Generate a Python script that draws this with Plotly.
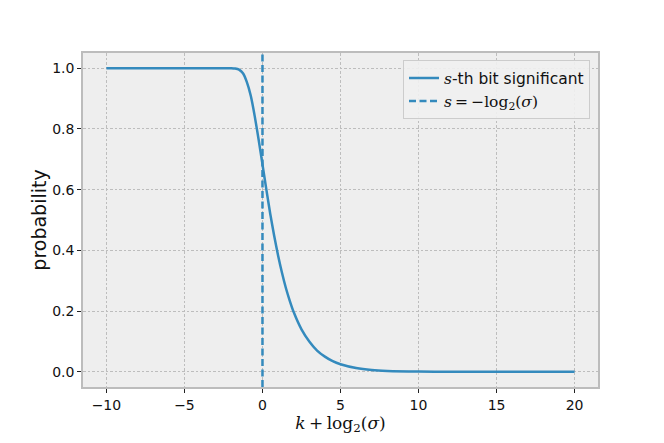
import plotly.graph_objects as go

# values
x_vals = [-10, -5, -3, -2, -1.75, -1.5, -1.25, -1, -0.75, -0.5, -0.25, 0, 0.25, 0.5, 0.75,
          1, 1.25, 1.5, 1.75, 2, 2.5, 3, 3.5, 4, 4.5, 5, 6, 7, 8, 10, 12, 15, 20]
prob = [1.0, 1.0, 1.0, 1.0, 0.999, 0.995, 0.983, 0.954, 0.909, 0.843, 0.766, 0.683, 0.600, 0.520, 0.448,
        0.383, 0.326, 0.276, 0.234, 0.197, 0.140, 0.100, 0.070, 0.050, 0.035, 0.025, 0.0125, 0.006, 0.003, 0.0008, 0.0002, 0.0, 0.0]
vline_x = [0, 0]
vline_y = [-0.05, 1.05]
x_ticks = [-10, -5, 0, 5, 10, 15, 20]
y_ticks = [0.0, 0.2, 0.4, 0.6, 0.8, 1.0]

blue = "#348ABD"
fig = go.Figure()
fig.add_trace(go.Scatter(x=x_vals, y=prob, mode="lines", line=dict(color=blue, width=2.5, shape="spline", smoothing=0.6),
                         name="<span style='font-family:DejaVu Serif'><i>s</i></span>-th bit significant"))
fig.add_trace(go.Scatter(x=vline_x, y=vline_y, mode="lines", line=dict(color=blue, width=2.5, dash="7px,3.5px"),
                         name="<span style='font-family:DejaVu Serif'><i>s</i>\u2009=\u2009−log<sub>2</sub>(<i>σ</i>)</span>"))

axis_common = dict(showgrid=True, gridcolor="#bdbdbd", griddash="2.5px,2px", gridwidth=0.6,
                   showline=True, linecolor="#bcbcbc", linewidth=1.5, mirror=True,
                   ticks="outside", ticklen=4, tickcolor="#222222", tickwidth=1,
                   zeroline=False, tickfont=dict(family="DejaVu Sans", size=14, color="#111111"))
fig.update_xaxes(range=[-11.5, 21.5], tickvals=x_ticks, ticktext=["−10", "−5", "0", "5", "10", "15", "20"],
                 title=dict(text="<i>k</i>\u2009+\u2009log<sub>2</sub>(<i>σ</i>)", font=dict(family="DejaVu Serif", size=17, color="#111111"), standoff=1),
                 **axis_common)
fig.update_yaxes(range=[-0.05, 1.05], tickvals=y_ticks, ticktext=["0.0", "0.2", "0.4", "0.6", "0.8", "1.0"],
                 title=dict(text="probability", font=dict(family="DejaVu Sans", size=19, color="#111111"), standoff=1),
                 **axis_common)
fig.update_layout(width=664, height=443, margin=dict(l=75, r=74, t=45, b=64),
                  plot_bgcolor="#eeeeee", paper_bgcolor="white",
                  legend=dict(x=0.9845, y=0.978, xanchor="right", yanchor="top",
                              bgcolor="rgba(240,240,240,0.9)", bordercolor="#cccccc", borderwidth=1,
                              font=dict(family="DejaVu Sans", size=15.5, color="#111111"), tracegroupgap=0),
                  showlegend=True)
fig.write_html("out.html")
